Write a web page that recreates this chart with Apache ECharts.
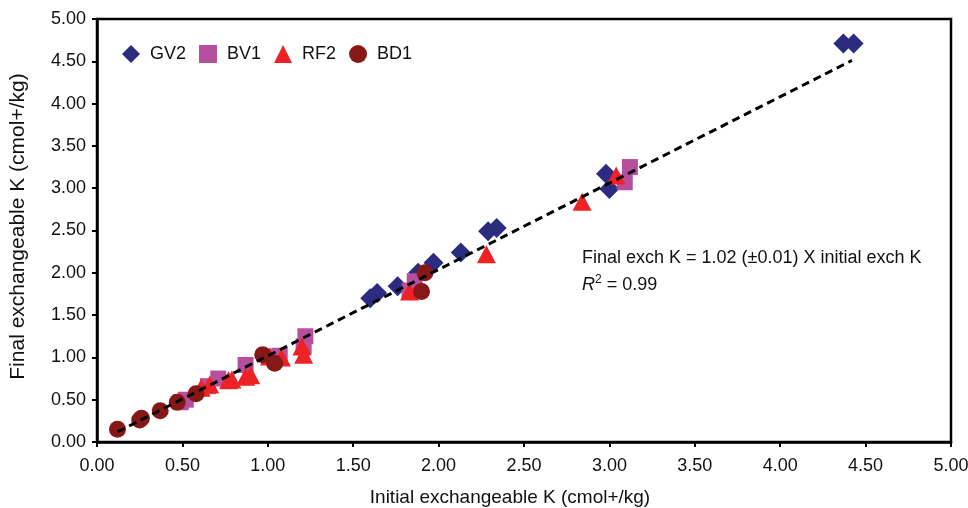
<!DOCTYPE html>
<html>
<head>
<meta charset="utf-8">
<script src="https://cdn.jsdelivr.net/npm/echarts@6/dist/echarts.min.js"></script>
<style>
  html, body { margin: 0; padding: 0; background: #fff; }
  #chart { width: 968px; height: 508px; }
</style>
</head>
<body>
<div id="chart"></div>
<script>
// initial vs final exchangeable K
const gv2 = [
  [4.37, 4.71], [4.43, 4.71], [2.98, 3.17], [3.00, 2.99], [2.34, 2.53], [2.29, 2.49],
  [2.13, 2.24], [1.97, 2.12], [1.88, 2.00], [1.76, 1.84], [1.64, 1.76], [1.60, 1.70]
]
const bv1 = [
  [3.12, 3.25], [3.09, 3.07], [1.86, 1.90], [1.83, 1.79], [1.22, 1.25], [1.21, 1.13],
  [1.07, 1.02], [1.03, 1.01], [0.87, 0.91], [0.71, 0.75], [0.65, 0.66], [0.52, 0.50], [0.49, 0.47]
]
const rf2 = [
  [3.04, 3.15], [2.84, 2.84], [2.28, 2.22], [1.83, 1.78], [1.20, 1.13], [1.21, 1.03],
  [1.08, 1.00], [1.01, 1.01], [0.90, 0.79], [0.87, 0.77], [0.79, 0.74], [0.77, 0.73],
  [0.66, 0.68], [0.61, 0.64]
]
const bd1 = [
  [1.92, 2.00], [1.90, 1.78], [1.04, 0.93], [0.97, 1.03], [0.58, 0.57], [0.47, 0.47],
  [0.37, 0.37], [0.25, 0.26], [0.26, 0.28], [0.12, 0.15]
]
// fitted line end points
const fitLine = [[0.12, 0.12], [4.42, 4.51]]

const names = ['GV2', 'BV1', 'RF2', 'BD1']
const colors = ['#2b2b7f', '#b6509e', '#ee2224', '#861818']

const chart = echarts.init(document.getElementById('chart'))

const axisCommon = {
  type: 'value',
  min: 0,
  max: 5,
  interval: 0.5,
  axisLine: {show: true, lineStyle: {color: '#000', width: 2.5}},
  axisTick: {show: true, inside: false, length: 5, lineStyle: {color: '#000', width: 2}},
  splitLine: {show: false},
  axisLabel: {
    color: '#111',
    fontFamily: 'Liberation Sans',
    fontSize: 18,
    formatter: v => v.toFixed(2)
  },
  nameLocation: 'middle',
  nameTextStyle: {color: '#111', fontFamily: 'Liberation Sans', fontSize: 19}
}

const option = {
  animation: false,
  backgroundColor: '#fff',
  grid: {
    left: 97, right: 17, top: 19, bottom: 66,
    outerBoundsMode: 'none',
    show: true, borderColor: '#000', borderWidth: 2.5
  },
  legend: {
    data: names,
    left: 117,
    top: 40,
    itemWidth: 18,
    itemHeight: 18,
    itemGap: 13,
    textStyle: {color: '#111', fontFamily: 'Liberation Sans', fontSize: 18, padding: [0, 0, 0, 5]}
  },
  xAxis: Object.assign({}, axisCommon, {
    name: 'Initial exchangeable K (cmol+/kg)',
    nameGap: 46,
    nameTextStyle: Object.assign({}, axisCommon.nameTextStyle, {padding: [0, 28, 0, 0]}),
    axisLabel: Object.assign({}, axisCommon.axisLabel, {margin: 15})
  }),
  yAxis: Object.assign({}, axisCommon, {
    name: 'Final exchangeable K (cmol+/kg)',
    nameGap: 68,
    nameTextStyle: Object.assign({}, axisCommon.nameTextStyle, {fontSize: 21, padding: [0, 0, 0, 8]}),
    axisLabel: Object.assign({}, axisCommon.axisLabel, {margin: 11})
  }),
  graphic: [{
    type: 'text',
    left: 582,
    top: 249,
    style: {
      text: 'Final exch K = 1.02 (\u00b10.01) X initial exch K',
      fill: '#111',
      font: '18px "Liberation Sans"'
    }
  }, {
    type: 'text',
    left: 582,
    top: 274,
    style: {
      text: '{r|R}{s|2}{n| = 0.99}',
      fill: '#111',
      rich: {
        r: {fontStyle: 'italic', fontFamily: 'Liberation Sans', fontSize: 18, fill: '#111', verticalAlign: 'bottom'},
        s: {fontFamily: 'Liberation Sans', fontSize: 12, fill: '#111', verticalAlign: 'top', padding: [0, 0, 8, 0]},
        n: {fontFamily: 'Liberation Sans', fontSize: 18, fill: '#111', verticalAlign: 'bottom'}
      }
    }
  }],
  series: [
    {name: 'GV2', type: 'scatter', data: gv2, symbol: 'diamond', symbolSize: 20,
      itemStyle: {color: colors[0], opacity: 1}},
    {name: 'BV1', type: 'scatter', data: bv1, symbol: 'rect', symbolSize: 16,
      itemStyle: {color: colors[1], opacity: 1}},
    {name: 'RF2', type: 'scatter', data: rf2, symbol: 'triangle', symbolSize: [19, 18],
      itemStyle: {color: colors[2], opacity: 1}},
    {name: 'BD1', type: 'scatter', data: bd1, symbol: 'circle', symbolSize: 17,
      itemStyle: {color: colors[3], opacity: 1}},
    {name: 'fit', type: 'line', data: fitLine, symbol: 'none', z: 5,
      lineStyle: {color: '#000', width: 3, type: [8, 5]}}
  ]
}

chart.setOption(option)
</script>
</body>
</html>
